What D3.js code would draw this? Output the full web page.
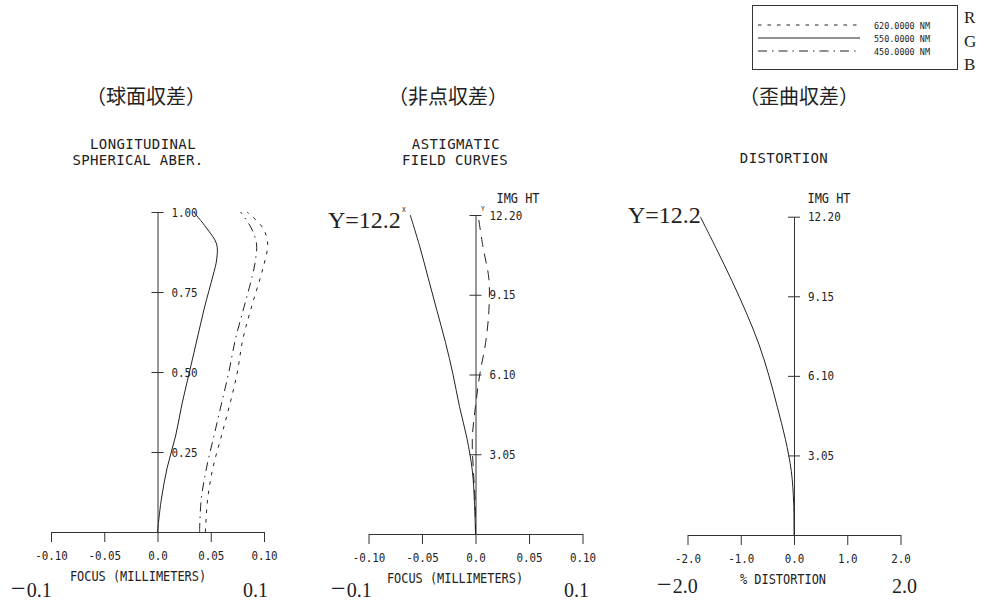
<!DOCTYPE html>
<html>
<head>
<meta charset="utf-8">
<script src="https://cdn.jsdelivr.net/npm/d3@7"></script>
<style>
  body { margin: 0; background: #fff; }
  svg { display: block; }
</style>
</head>
<body>
<svg id="chart" width="985" height="604"></svg>
<script>
// ---- дані ----
// сферична аберація: відносна висота зіниці і фокус (мм) для трьох довжин хвиль
var sphHeight = [0, 0.1, 0.2, 0.3, 0.4, 0.5, 0.6, 0.7, 0.8, 0.85, 0.9, 0.95, 1.0];
var sph620 = [0.045, 0.047, 0.052, 0.060, 0.068, 0.075, 0.080, 0.088, 0.097, 0.101, 0.1035, 0.099, 0.084];
var sph550 = [0, 0.0035, 0.009, 0.017, 0.023, 0.030, 0.037, 0.044, 0.052, 0.0555, 0.0555, 0.046, 0.034];
var sph450 = [0.0395, 0.041, 0.046, 0.053, 0.060, 0.067, 0.073, 0.081, 0.089, 0.092, 0.093, 0.088, 0.078];

// астигматизм і дисторсія: висота зображення (мм)
var imgHeight = [0, 1.22, 2.44, 3.66, 4.88, 6.10, 7.32, 8.54, 9.76, 10.98, 12.2];
var astigX = [0, -0.001, -0.003, -0.008, -0.015, -0.021, -0.028, -0.036, -0.044, -0.052, -0.061];
var astigY = [0, -0.0003, -0.002, -0.003, 0.000, 0.004, 0.0095, 0.0125, 0.0125, 0.007, 0.0024];
var distortion = [0, -0.006, -0.05, -0.16, -0.31, -0.47, -0.66, -0.90, -1.17, -1.46, -1.76];

// підписи осей
var focusTicks = [-0.1, -0.05, 0, 0.05, 0.1];
var focusTickLabels = ["-0.10", "-0.05", "0.0", "0.05", "0.10"];
var pupilTicks = [0.25, 0.5, 0.75, 1.0];
var pupilTickLabels = ["0.25", "0.50", "0.75", "1.00"];
var imgTicks = [3.05, 6.10, 9.15, 12.20];
var imgTickLabels = ["3.05", "6.10", "9.15", "12.20"];
var distTicks = [-2, -1, 0, 1, 2];
var distTickLabels = ["-2.0", "-1.0", "0.0", "1.0", "2.0"];

// легенда
var wavelengths = ["620.0000 NM", "550.0000 NM", "450.0000 NM"];
var colorNames = ["R", "G", "B"];

var ink = "#222";
var dash = { "620": "3.5,6", "550": null, "450": "9,5,1.5,5" };

var svg = d3.select("#chart");
var sx = 0.87;

//моноширинний текст (трохи стиснутий)
function monoText(x, y, str, size, anchor, k) {
    return svg.append("text")
        .attr("transform", "translate(" + x + "," + y + ") scale(" + (k || sx) + ",1)")
        .attr("text-anchor", anchor || "start")
        .style("font-family", "'DejaVu Sans Mono', monospace")
        .style("font-size", size + "px")
        .style("fill", ink)
        .text(str);
}

function serifText(x, y, str, size) {
    return svg.append("text")
        .attr("x", x).attr("y", y)
        .style("font-family", "'Liberation Serif', serif")
        .style("font-size", size + "px")
        .style("fill", ink)
        .text(str);
}

// межі шкали внизу: великий мінус + число
function limitText(x, y, str, size) {
    var t = svg.append("text")
        .attr("x", x).attr("y", y)
        .style("font-family", "'Liberation Serif', serif")
        .style("fill", ink);
    if (str[0] === "−") {
        t.append("tspan").style("font-size", (size * 1.3) + "px").text("−");
        t.append("tspan").attr("dx", 1).style("font-size", size + "px").text(str.slice(1));
    } else {
        t.append("tspan").style("font-size", size + "px").text(str);
    }
}

function cjkTitle(x, y, str) {
    svg.append("text")
        .attr("x", x).attr("y", y)
        .attr("text-anchor", "middle")
        .style("font-family", "'Noto Sans CJK JP', sans-serif")
        .style("font-size", "20px")
        .style("fill", ink)
        .text(str);
}

function drawAxes(x, y, xTicks, xLabels, yTicks, yLabels) {
    var gx = svg.append("g")
        .attr("transform", "translate(0," + y(0) + ")")
        .call(d3.axisBottom(x)
            .tickValues(xTicks)
            .tickFormat(function(d, i) { return xLabels[i]; })
            .tickSize(10).tickSizeOuter(0).tickPadding(9));

    var gy = svg.append("g")
        .attr("transform", "translate(" + x(0) + ",0)")
        .call(d3.axisRight(y)
            .tickValues(yTicks)
            .tickFormat(function(d, i) { return yLabels[i]; })
            .tickSize(6).tickSizeOuter(0));

    gy.selectAll(".tick line").attr("x1", -6).attr("x2", 6);
    gy.selectAll(".tick text").attr("x", 14 / sx);

    [gx, gy].forEach(function(g) {
        g.selectAll("path, line").attr("stroke", "#333");
        g.selectAll("text")
            .attr("transform", "scale(" + sx + ",1)")
            .attr("fill", ink)
            .style("font-family", "'DejaVu Sans Mono', monospace")
            .style("font-size", "12.5px");
    });
}

function drawCurve(x, y, heights, values, dasharray) {
    var line = d3.line()
        .x(function(d) { return x(d.v); })
        .y(function(d) { return y(d.h); })
        .curve(d3.curveCatmullRom.alpha(0.5));
    var pts = heights.map(function(h, i) { return { h: h, v: values[i] }; });
    svg.append("path")
        .datum(pts)
        .attr("d", line)
        .attr("fill", "none")
        .attr("stroke", ink)
        .attr("stroke-width", 1)
        .attr("stroke-dasharray", dasharray);
}

/* ---------- 1. сферична аберація ---------- */
var x1 = d3.scaleLinear().domain([-0.1, 0.1]).range([51, 264]);
var y1 = d3.scaleLinear().domain([0, 1]).range([532, 212]);
drawAxes(x1, y1, focusTicks, focusTickLabels, pupilTicks, pupilTickLabels);
drawCurve(x1, y1, sphHeight, sph550, dash["550"]);
drawCurve(x1, y1, sphHeight, sph450, dash["450"]);
drawCurve(x1, y1, sphHeight, sph620, dash["620"]);

cjkTitle(146, 104, "（球面収差）");
monoText(143, 148.5, "LONGITUDINAL", 14, "middle", 1).style("letter-spacing", "0.4px");
monoText(138, 165, "SPHERICAL ABER.", 14, "middle", 1).style("letter-spacing", "0.3px");
monoText(138, 581, "FOCUS (MILLIMETERS)", 13.7, "middle");
limitText(11, 597, "−0.1", 20);
limitText(243, 597, "0.1", 20);

/* ---------- 2. астигматизм ---------- */
var x2 = d3.scaleLinear().domain([-0.1, 0.1]).range([368.5, 582.5]);
var y2 = d3.scaleLinear().domain([0, 12.2]).range([534, 215]);
drawAxes(x2, y2, focusTicks, focusTickLabels, imgTicks, imgTickLabels);
drawCurve(x2, y2, imgHeight, astigX, null);
drawCurve(x2, y2, imgHeight, astigY, "10,7");

cjkTitle(448, 104, "（非点収差）");
monoText(456, 148.5, "ASTIGMATIC", 14, "middle", 1).style("letter-spacing", "0.4px");
monoText(455, 165, "FIELD CURVES", 14, "middle", 1).style("letter-spacing", "0.4px");
monoText(518, 203, "IMG HT", 13.7, "middle");
monoText(455, 583, "FOCUS (MILLIMETERS)", 13.7, "middle");
serifText(328, 228, "Y=12.2", 24);
monoText(402, 212, "X", 7, "start");
monoText(481, 211, "Y", 7, "start");
limitText(331, 597, "−0.1", 20);
limitText(564, 597, "0.1", 20);

/* ---------- 3. дисторсія ---------- */
var x3 = d3.scaleLinear().domain([-2, 2]).range([687.5, 900.5]);
var y3 = d3.scaleLinear().domain([0, 12.2]).range([535, 216.7]);
drawAxes(x3, y3, distTicks, distTickLabels, imgTicks, imgTickLabels);
drawCurve(x3, y3, imgHeight, distortion, null);

cjkTitle(799, 104, "（歪曲収差）");
monoText(784, 163, "DISTORTION", 14, "middle", 1).style("letter-spacing", "0.4px");
monoText(829, 203, "IMG HT", 13.7, "middle");
monoText(783, 584, "% DISTORTION", 13.7, "middle");
serifText(628, 223, "Y=12.2", 24);
limitText(657, 593, "−2.0", 20);
limitText(892, 593, "2.0", 20);

/* ---------- легенда ---------- */
var legend = svg.append("g");
legend.append("rect")
    .attr("x", 752.5).attr("y", 5.5)
    .attr("width", 205).attr("height", 64)
    .attr("fill", "none").attr("stroke", "#333");

var legendKeys = ["620", "550", "450"];
var legendY = d3.scalePoint().domain(legendKeys).range([25, 51]);
legendKeys.forEach(function(k, i) {
    legend.append("line")
        .attr("x1", 758).attr("x2", 860)
        .attr("y1", legendY(k)).attr("y2", legendY(k))
        .attr("stroke", ink)
        .attr("stroke-dasharray", dash[k]);
    monoText(874, legendY(k) + 3.5, wavelengths[i], 9.2, "start", 0.92);
});
var rgbY = d3.scalePoint().domain(colorNames).range([23, 70]);
colorNames.forEach(function(c) {
    serifText(964, rgbY(c), c, 17);
});
</script>
</body>
</html>
